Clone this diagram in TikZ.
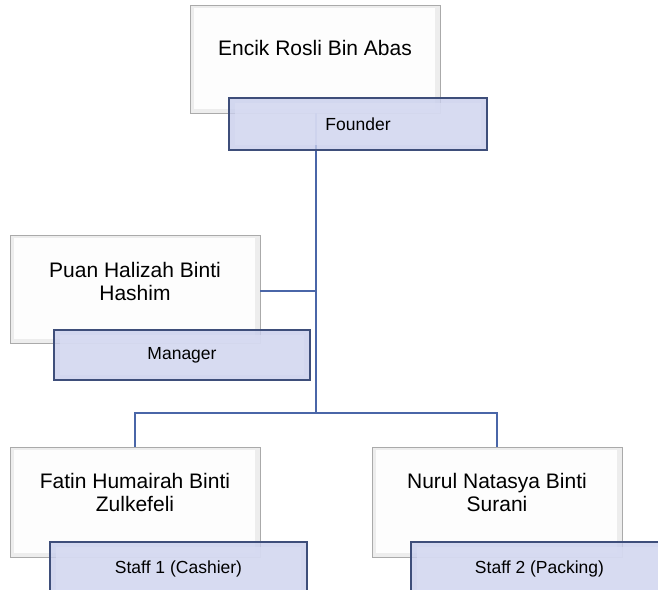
\documentclass[tikz,border=0pt]{standalone}
\usepackage{fontspec}
\setmainfont{Liberation Sans}
\definecolor{lblfill}{RGB}{200,206,236}
\definecolor{lblinner}{RGB}{217,221,243}
\definecolor{lbldraw}{RGB}{62,78,122}
\definecolor{connc}{RGB}{74,102,168}
\definecolor{namedraw}{RGB}{170,170,170}
\definecolor{nameinner}{RGB}{253,253,253}
\begin{document}
\begin{tikzpicture}[x=1pt,y=-1pt,
  namebox/.style={rectangle, draw=namedraw, line width=0.8pt, fill=gray!14, inner sep=0pt,
    minimum width=250pt, minimum height=108pt,
    path picture={\fill[nameinner] ([shift={(4pt,4pt)}]path picture bounding box.south west) rectangle ([shift={(-5pt,-3pt)}]path picture bounding box.north east);}},
  nametext/.style={align=center, font=\fontsize{21}{23}\selectfont, text=black, inner sep=0pt},
  lblbox/.style={rectangle, draw=lbldraw, line width=1.2pt, fill=lblfill, fill opacity=0.8, text opacity=1, inner sep=0pt,
    minimum width=257pt, minimum height=51pt,
    path picture={\fill[lblinner, fill opacity=0.75] ([shift={(6pt,5pt)}]path picture bounding box.south west) rectangle ([shift={(-6pt,-5pt)}]path picture bounding box.north east);},
    font=\fontsize{17.5}{20}\selectfont, text=black},
  conn/.style={draw=connc, line width=1.2pt}
]
\clip (0,0) rectangle (658,589);
\fill[white] (0,0) rectangle (658,589);
% name boxes
\node[namebox] (encik) at (315,59) {};
\node[nametext] (encikT) at (315,48) {Encik Rosli Bin Abas};
\node[namebox] (puan) at (135,289) {};
\node[nametext] (puanT) at (135,281) {Puan Halizah Binti\\Hashim};
\node[namebox, minimum height=110pt] (fatin) at (135,502) {};
\node[nametext] (fatinT) at (135,492) {Fatin Humairah Binti\\Zulkefeli};
\node[namebox, minimum height=110pt] (nurul) at (497,502) {};
\node[nametext] (nurulT) at (497,492) {Nurul Natasya Binti\\Surani};
% junctions
\coordinate (j1) at (316,291);
\coordinate (j2) at (316,413);
% connectors
\draw[conn] (encik.south -| j2) -- (j2);
\draw[conn] (puan.east |- j1) -- (j1);
\draw[conn] (j2) -| (fatin.north);
\draw[conn] (j2) -| (nurul.north);
% label boxes
\node[lblbox, minimum width=258pt, minimum height=52pt] (founder) at (358,124) {Founder};
\node[lblbox, minimum width=256pt, minimum height=50pt] (manager) at (182,355) {Manager};
\node[lblbox, minimum height=54pt] (staff1) at (178.5,569) {Staff 1 (Cashier)};
\node[lblbox, minimum height=54pt] (staff2) at (539.5,569) {Staff 2 (Packing)};
\end{tikzpicture}
\end{document}
